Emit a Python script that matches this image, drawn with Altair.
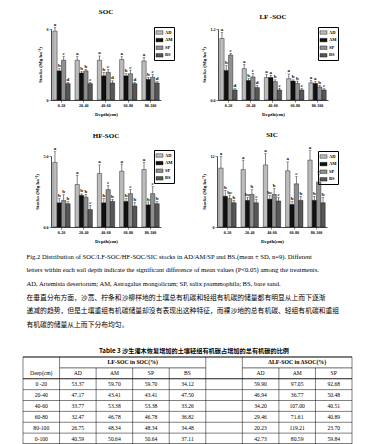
import altair as alt
import pandas as pd

SERIF = "Liberation Serif"
CJK = "Noto Sans CJK SC"

depths = ["0-20", "20-40", "40-60", "60-80", "80-100"]
treatments = ["AD", "AM", "SP", "BS"]
fills = ["#bcbcbc", "#111111", "#8f8f8f", "#575757"]

# SOC stocks
soc_AD = [5.82, 3.36, 3.36, 3.42, 3.30]
soc_AM = [2.46, 2.28, 2.04, 2.04, 1.74]
soc_SP = [3.36, 2.46, 2.34, 2.22, 1.92]
soc_BS = [1.38, 1.38, 1.44, 1.38, 1.44]
soc_sd_AD = [0.30, 0.30, 0.36, 0.24, 0.30]
soc_sd_AM = [0.18, 0.12, 0.30, 0.18, 0.18]
soc_sd_SP = [0.30, 0.10, 0.24, 0.30, 0.24]
soc_sd_BS = [0.12, 0.10, 0.18, 0.12, 0.12]
soc_let_AD = ["a", "a", "a", "a", "a"]
soc_let_AM = ["b", "b", "b", "b", "b"]
soc_let_SP = ["c", "b", "c", "c", "c"]
soc_let_BS = ["d", "c", "d", "d", "d"]

# LF-SOC stocks
lf_AD = [1.04, 0.53, 0.38, 0.36, 0.29]
lf_AM = [0.50, 0.33, 0.38, 0.32, 0.28]
lf_SP = [0.76, 0.39, 0.31, 0.28, 0.22]
lf_BS = [0.17, 0.21, 0.17, 0.17, 0.17]
lf_sd_AD = [0.10, 0.07, 0.05, 0.08, 0.04]
lf_sd_AM = [0.08, 0.03, 0.04, 0.02, 0.03]
lf_sd_SP = [0.03, 0.06, 0.03, 0.04, 0.03]
lf_sd_BS = [0.02, 0.04, 0.03, 0.03, 0.02]
lf_let_AD = ["a", "a", "a", "a", "a"]
lf_let_AM = ["b", "b", "a", "b", "a"]
lf_let_SP = ["c", "c", "b", "b", "b"]
lf_let_BS = ["d", "d", "c", "c", "c"]

# HF-SOC stocks
hf_AD = [4.55, 2.99, 3.77, 3.93, 4.05]
hf_AM = [1.70, 2.23, 1.70, 1.80, 1.56]
hf_SP = [1.87, 2.10, 2.63, 2.35, 2.35]
hf_BS = [1.64, 1.23, 1.80, 1.47, 1.64]
hf_sd_AD = [0.75, 0.65, 0.60, 0.50, 0.50]
hf_sd_AM = [0.30, 0.10, 0.30, 0.20, 0.20]
hf_sd_SP = [0.40, 0.20, 0.30, 0.30, 0.50]
hf_sd_BS = [0.15, 0.30, 0.15, 0.25, 0.15]
hf_let_AD = ["a", "a", "a", "a", "a"]
hf_let_AM = ["b", "b", "b", "b", "b"]
hf_let_SP = ["b", "b", "c", "c", "c"]
hf_let_BS = ["b", "c", "b", "b", "b"]

# SIC stocks
sic_AD = [9.95, 9.70, 10.5, 9.50, 11.3]
sic_AM = [5.20, 4.50, 4.70, 3.80, 4.50]
sic_SP = [4.80, 5.50, 5.50, 7.30, 7.60]
sic_BS = [4.10, 4.10, 4.40, 4.50, 4.10]
sic_sd_AD = [2.0, 1.6, 1.9, 1.5, 1.6]
sic_sd_AM = [1.0, 0.5, 0.6, 0.5, 0.7]
sic_sd_SP = [0.6, 0.8, 1.0, 1.2, 1.3]
sic_sd_BS = [0.4, 0.6, 0.6, 0.7, 0.9]
sic_let_AD = ["a", "a", "a", "a", "a"]
sic_let_AM = ["b", "bc", "bc", "b", "b"]
sic_let_SP = ["bc", "b", "b", "c", "c"]
sic_let_BS = ["b", "c", "c", "b", "b"]

caption_lines = [
    "Fig.2 Distribution of SOC/LF-SOC/HF-SOC/SIC stocks in AD/AM/SP and BS.(mean \u00b1 SD, n=9). Different",
    "letters within each soil depth indicate the significant difference of mean values (P<0.05) among the treatments.",
    "AD, Artemisia desertorum; AM, Astragalus mongolicum; SP, salix psammophila; BS, bare sand.",
]
cn_lines = [
    "\u3000\u3000在垂直分布方面，沙蒿、柠条和沙柳样地的土壤总有机碳和轻组有机碳的储量都有明显从上而下逐渐",
    "递减的趋势，但是土壤重组有机碳储量却没有表现出这种特征，而裸沙地的总有机碳、轻组有机碳和重组",
    "有机碳的储量从上而下分布均匀。",
]

table_title = "Table 3 沙生灌木恢复增加的土壤轻组有机碳占增加的总有机碳的比例"
table_group1 = "LF-SOC in SOC(%)"
table_group2 = "\u0394LF-SOC in \u0394SOC(%)"
table_header = ["Deep(cm)", "AD", "AM", "SP", "BS", "", "AD", "AM", "SP"]
table_depths = ["0 -20", "20-40", "40-60", "60-80", "80-100", "0-100"]
t_lf_AD = [53.37, 47.17, 33.77, 32.47, 26.75, 40.59]
t_lf_AM = [59.70, 43.41, 53.38, 46.78, 48.34, 50.64]
t_lf_SP = [59.70, 43.41, 53.38, 46.78, 48.34, 50.64]
t_lf_BS = [34.12, 47.50, 33.26, 36.82, 34.48, 37.11]
t_d_AD = [59.90, 46.94, 34.20, 29.46, 20.23, 42.73]
t_d_AM = [97.05, 36.77, 107.00, 71.61, 119.21, 80.59]
t_d_SP = [92.68, 50.48, 40.51, 40.89, 23.70, 59.84]

PW, PH = 110, 71
LEG_SYMBOL = "M-1,-0.5H1V0.5H-1Z"


def panel(title, means, sds, lets, ymax, ystep, fmt, lx, ly):
    rows = []
    for t, m, s, l in zip(treatments, means, sds, lets):
        for d, mv, sv, lv in zip(depths, m, s, l):
            rows.append({"depth": d, "trt": t, "mean": mv, "top": mv + sv, "letter": lv})
    df = pd.DataFrame(rows)
    n = int(round(ymax / ystep))
    ticks = [round(i * ystep, 3) for i in range(n + 1)]
    ys = alt.Scale(domain=[0, ymax], nice=False)
    base = alt.Chart(df).encode(
        x=alt.X("depth:N", sort=depths, title="Depth(cm)",
                scale=alt.Scale(paddingInner=0.22, paddingOuter=0.08),
                axis=alt.Axis(labelAngle=0, labelFontSize=4, labelFont=SERIF, labelFontWeight="bold",
                              titleFontSize=5, titleFont=SERIF, titleFontWeight="bold", titlePadding=4,
                              tickSize=2, tickWidth=0.5, domainWidth=0.7, domainColor="black",
                              tickColor="black", labelPadding=1.5, labelColor="black", titleColor="black")),
        xOffset=alt.XOffset("trt:N", sort=treatments,
                            scale=alt.Scale(domain=treatments, paddingInner=0, paddingOuter=0)),
    )
    bars = base.mark_bar(stroke="black", strokeWidth=0.4).encode(
        y=alt.Y("mean:Q", scale=ys, title="Stocks (Mg ha\u207b\u00b9)",
                axis=alt.Axis(values=ticks, format=fmt, grid=False, labelFontSize=4, labelFont=SERIF,
                              labelFontWeight="bold", titleFontSize=5, titleFont=SERIF,
                              titleFontWeight="bold", titlePadding=4, tickSize=2, tickWidth=0.5,
                              domainWidth=0.7, domainColor="black", tickColor="black",
                              labelPadding=1, labelColor="black", titleColor="black")),
        fill=alt.Fill("trt:N", sort=treatments,
                      scale=alt.Scale(domain=treatments, range=fills),
                      legend=alt.Legend(orient="none", legendX=lx, legendY=ly, title=None,
                                        strokeColor="black", padding=1.5, symbolType=LEG_SYMBOL,
                                        symbolSize=49, symbolStrokeColor="black",
                                        symbolStrokeWidth=0.4, labelFontSize=4.5, labelFont=SERIF,
                                        labelFontWeight="bold", rowPadding=0.6, labelOffset=1.5,
                                        labelColor="black")),
    )
    err = base.mark_rule(color="black", strokeWidth=0.5).encode(
        y=alt.Y("mean:Q", scale=ys), y2="top:Q")
    cap = base.mark_tick(color="black", thickness=0.5, size=2.5).encode(
        y=alt.Y("top:Q", scale=ys))
    lab = base.mark_text(font=SERIF, fontSize=5, fontWeight="bold", dy=-3.5, color="black").encode(
        y=alt.Y("top:Q", scale=ys), text="letter:N")
    return alt.layer(bars, err, cap, lab).properties(
        width=PW, height=PH,
        title=alt.TitleParams(title, font=SERIF, fontSize=7, fontWeight="bold", offset=7, color="black"),
    )


p_soc = panel("SOC", [soc_AD, soc_AM, soc_SP, soc_BS],
              [soc_sd_AD, soc_sd_AM, soc_sd_SP, soc_sd_BS],
              [soc_let_AD, soc_let_AM, soc_let_SP, soc_let_BS], 6, 1, "d", 103, -2)
p_lf = panel("LF -SOC", [lf_AD, lf_AM, lf_SP, lf_BS],
             [lf_sd_AD, lf_sd_AM, lf_sd_SP, lf_sd_BS],
             [lf_let_AD, lf_let_AM, lf_let_SP, lf_let_BS], 1.2, 0.2, ".1f", 100, -2)
p_hf = panel("HF-SOC", [hf_AD, hf_AM, hf_SP, hf_BS],
             [hf_sd_AD, hf_sd_AM, hf_sd_SP, hf_sd_BS],
             [hf_let_AD, hf_let_AM, hf_let_SP, hf_let_BS], 5, 1, ".1f", 103, -6)
p_sic = panel("SIC", [sic_AD, sic_AM, sic_SP, sic_BS],
              [sic_sd_AD, sic_sd_AM, sic_sd_SP, sic_sd_BS],
              [sic_let_AD, sic_let_AM, sic_let_SP, sic_let_BS], 12, 2, "d", 101, -5)

# ---------- lower block: caption, paragraph, table ----------
TXT_H = 81.6      # six text lines
TAB_TOP = 107.0   # table top border below block top
TAB_H = 87.0
TBL_W = 329.0

text_df = pd.DataFrame({
    "row": list(range(6)),
    "text": caption_lines + cn_lines,
    "lang": ["en"] * 3 + ["zh"] * 3,
})
ty = alt.Y("row:O", axis=None,
           scale=alt.Scale(domain=list(range(6)), range=[0, TXT_H], paddingInner=0, paddingOuter=0))
t_en = alt.Chart(text_df).transform_filter("datum.lang == 'en'").mark_text(
    align="left", baseline="middle", font=SERIF, fontSize=6.6, color="black"
).encode(y=ty, x=alt.value(3.5), text="text:N")
t_zh = alt.Chart(text_df).transform_filter("datum.lang == 'zh'").mark_text(
    align="left", baseline="middle", font=CJK, fontSize=6.8, color="black"
).encode(y=ty, x=alt.value(3.5), text="text:N")

cells = []
cells.append({"c": 3.0, "r": 0.5, "t": table_group1, "b": "bold"})
cells.append({"c": 7.5, "r": 0.5, "t": table_group2, "b": "bold"})
for i, h in enumerate(table_header):
    if h:
        cells.append({"c": i + 0.5, "r": 1.5, "t": h, "b": "normal"})
cols = [t_lf_AD, t_lf_AM, t_lf_SP, t_lf_BS, None, t_d_AD, t_d_AM, t_d_SP]
for j, dname in enumerate(table_depths):
    cells.append({"c": 0.5, "r": j + 2.5, "t": dname, "b": "normal"})
    for k, col in enumerate(cols):
        if col is not None:
            cells.append({"c": k + 1.5, "r": j + 2.5, "t": f"{col[j]:.2f}", "b": "normal"})
cells_df = pd.DataFrame(cells)

hl = [{"x": 0, "x2": 9, "y": 0, "w": 1.2},
      {"x": 1, "x2": 5, "y": 1, "w": 0.6},
      {"x": 6, "x2": 9, "y": 1, "w": 0.6},
      {"x": 0, "x2": 9, "y": 2, "w": 0.9}]
for r in range(3, 8):
    hl.append({"x": 0, "x2": 9, "y": r, "w": 0.5})
hl.append({"x": 0, "x2": 9, "y": 8, "w": 1.2})
vl = []
for c in [0, 1, 5, 6, 9]:
    vl.append({"x": c, "y": 0, "y2": 1, "w": 0.5})
for c in range(10):
    vl.append({"x": c, "y": 1, "y2": 8, "w": 0.5})

TX = alt.Scale(domain=[0, 9], range=[0, TBL_W])
TY = alt.Scale(domain=[0, 8], range=[TAB_TOP, TAB_TOP + TAB_H])
h_rules = alt.Chart(pd.DataFrame(hl)).mark_rule(color="black").encode(
    x=alt.X("x:Q", scale=TX, axis=None), x2="x2:Q",
    y=alt.Y("y:Q", scale=TY, axis=None), strokeWidth=alt.StrokeWidth("w:Q", scale=None))
v_rules = alt.Chart(pd.DataFrame(vl)).mark_rule(color="black").encode(
    x=alt.X("x:Q", scale=TX, axis=None),
    y=alt.Y("y:Q", scale=TY, axis=None), y2="y2:Q", strokeWidth=alt.StrokeWidth("w:Q", scale=None))
t_bold = alt.Chart(cells_df).transform_filter("datum.b == 'bold'").mark_text(
    font=SERIF, fontSize=5.8, fontWeight="bold", baseline="middle", color="black").encode(
    x=alt.X("c:Q", scale=TX, axis=None), y=alt.Y("r:Q", scale=TY, axis=None), text="t:N")
t_norm = alt.Chart(cells_df).transform_filter("datum.b == 'normal'").mark_text(
    font=SERIF, fontSize=5.6, baseline="middle", color="black").encode(
    x=alt.X("c:Q", scale=TX, axis=None), y=alt.Y("r:Q", scale=TY, axis=None), text="t:N")
t_title = alt.Chart(pd.DataFrame({"t": [table_title]})).mark_text(
    font=CJK, fontSize=6.2, fontWeight="bold", baseline="middle", color="black").encode(
    x=alt.value(171), y=alt.value(TAB_TOP - 6), text="t:N")

lower = alt.layer(t_en, t_zh, h_rules, v_rules, t_bold, t_norm, t_title).resolve_scale(
    y="independent", x="independent").properties(width=TBL_W, height=TAB_TOP + TAB_H)

spacer = alt.Chart(pd.DataFrame({"v": [0]})).mark_point(opacity=0, size=1).encode(
    x=alt.value(0), y=alt.value(0)).properties(width=1, height=1)

row1 = alt.hconcat(p_soc, p_lf, spacing=26).resolve_scale(fill="independent").resolve_legend(fill="independent")
row2 = alt.hconcat(p_hf, p_sic, spacing=26).resolve_scale(fill="independent").resolve_legend(fill="independent")
panels = alt.vconcat(row1, row2, spacing=14).resolve_scale(fill="independent").resolve_legend(fill="independent")
top = alt.hconcat(spacer, panels, spacing=10).resolve_scale(fill="independent").resolve_legend(fill="independent")
chart = alt.vconcat(top, lower, spacing=6).resolve_scale(
    fill="independent").resolve_legend(fill="independent").properties(
    padding={"left": 14, "top": 0, "right": 0, "bottom": 0}, background="white"
).configure_view(stroke=None)

chart.save("out.html", embed_options={"renderer": "svg", "actions": False})
